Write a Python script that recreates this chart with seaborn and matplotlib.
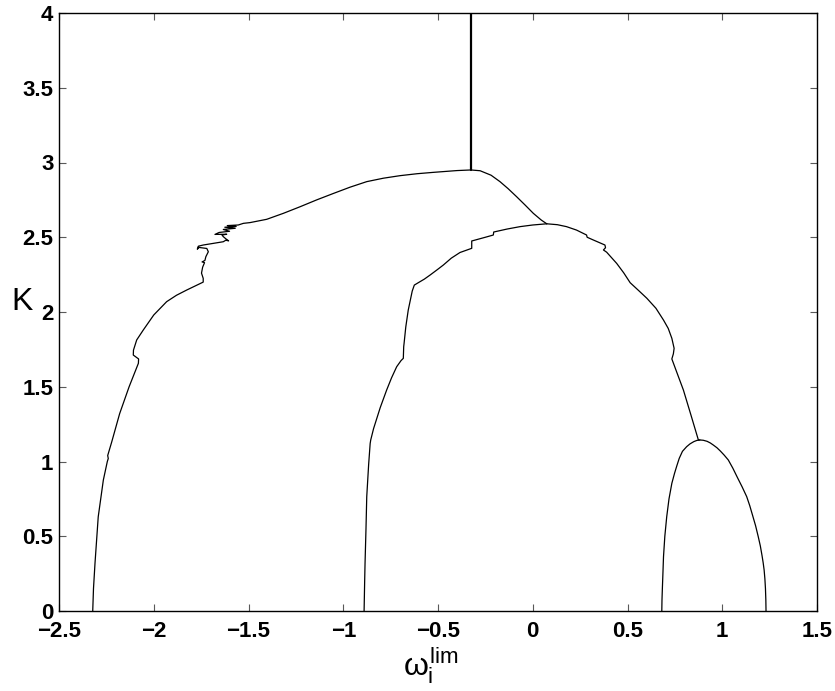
import matplotlib
matplotlib.use("Agg")
import matplotlib.pyplot as plt
import seaborn as sns

# ---- data ----
outer_x = [-2.322, -2.318, -2.310, -2.293, -2.266, -2.245, -2.240, -2.243, -2.222, -2.180, -2.130,
           -2.081, -2.080, -2.095, -2.108, -2.107, -2.090, -2.055, -2.000, -1.932, -1.880, -1.826,
           -1.739, -1.739, -1.748, -1.742, -1.732, -1.745, -1.730, -1.725, -1.712, -1.720, -1.762,
           -1.770, -1.765, -1.739, -1.686, -1.633, -1.620, -1.605, -1.620, -1.633, -1.640, -1.615,
           -1.677, -1.655, -1.600, -1.633, -1.570, -1.625, -1.565, -1.612, -1.554, -1.527, -1.492,
           -1.404, -1.316, -1.228, -1.140, -1.052, -0.964, -0.876, -0.788, -0.700, -0.610, -0.525,
           -0.400, -0.327, -0.278, -0.220, -0.173, -0.130, -0.085, -0.040, 0.003, 0.045, 0.074]
outer_y = [0.000, 0.150, 0.320, 0.630, 0.876, 1.000, 1.020, 1.040, 1.130, 1.320, 1.500,
           1.657, 1.686, 1.700, 1.712, 1.745, 1.813, 1.880, 1.980, 2.069, 2.112, 2.147,
           2.200, 2.225, 2.260, 2.300, 2.330, 2.335, 2.345, 2.370, 2.403, 2.425, 2.432,
           2.420, 2.440, 2.448, 2.459, 2.470, 2.480, 2.476, 2.490, 2.504, 2.515, 2.520,
           2.519, 2.532, 2.540, 2.552, 2.560, 2.567, 2.572, 2.578, 2.582, 2.593, 2.598,
           2.620, 2.660, 2.704, 2.750, 2.793, 2.835, 2.872, 2.895, 2.912, 2.925, 2.934,
           2.946, 2.950, 2.945, 2.915, 2.872, 2.825, 2.771, 2.715, 2.660, 2.615, 2.590]

stem_x = [-0.327, -0.327]
stem_y = [2.950, 4.000]

mid_left_x = [-0.890, -0.887, -0.885, -0.880, -0.876, -0.866, -0.858, -0.855, -0.840, -0.805,
              -0.771, -0.745, -0.718, -0.695, -0.683, -0.681, -0.679, -0.670, -0.657, -0.636,
              -0.625, -0.604, -0.572, -0.542, -0.505, -0.472, -0.430, -0.384, -0.322, -0.322,
              -0.250, -0.208, -0.206, -0.135, -0.067, 0.000, 0.074]
mid_left_y = [0.000, 0.200, 0.319, 0.550, 0.765, 0.980, 1.120, 1.144, 1.220, 1.360,
              1.478, 1.560, 1.634, 1.675, 1.690, 1.768, 1.790, 1.900, 2.013, 2.140,
              2.180, 2.196, 2.220, 2.247, 2.282, 2.314, 2.360, 2.398, 2.426, 2.475,
              2.500, 2.515, 2.535, 2.555, 2.571, 2.582, 2.590]

mid_right_x = [0.074, 0.130, 0.178, 0.231, 0.284, 0.287, 0.319, 0.381, 0.384, 0.373, 0.390, 0.443,
               0.480, 0.514, 0.560, 0.602, 0.650, 0.690, 0.715, 0.734, 0.746, 0.742, 0.734, 0.765,
               0.795, 0.835, 0.874, 0.882]
mid_right_y = [2.590, 2.584, 2.571, 2.548, 2.515, 2.500, 2.482, 2.448, 2.430, 2.415, 2.400, 2.325,
               2.262, 2.196, 2.142, 2.092, 2.025, 1.946, 1.890, 1.824, 1.757, 1.720, 1.686, 1.580,
               1.478, 1.310, 1.144, 1.144]

small_x = [0.681, 0.682, 0.684, 0.687, 0.690, 0.697, 0.707, 0.719, 0.734, 0.748, 0.760, 0.773,
           0.790, 0.812, 0.830, 0.850, 0.866, 0.882, 0.900, 0.920, 0.937, 0.953, 0.972, 0.990,
           1.010, 1.032, 1.056, 1.080, 1.105, 1.129, 1.145, 1.160, 1.176, 1.190, 1.201, 1.210,
           1.216, 1.221, 1.225, 1.228, 1.230, 1.231]
small_y = [0.000, 0.075, 0.150, 0.255, 0.363, 0.500, 0.631, 0.750, 0.854, 0.920, 0.970, 1.021,
           1.068, 1.099, 1.118, 1.133, 1.141, 1.144, 1.142, 1.135, 1.124, 1.110, 1.092, 1.070,
           1.043, 1.010, 0.955, 0.893, 0.830, 0.765, 0.705, 0.640, 0.570, 0.497, 0.435, 0.370,
           0.322, 0.274, 0.215, 0.150, 0.075, 0.000]

xticks = [-2.5, -2, -1.5, -1, -0.5, 0, 0.5, 1, 1.5]
xtick_labels = ["\u22122.5", "\u22122", "\u22121.5", "\u22121", "\u22120.5", "0", "0.5", "1", "1.5"]
yticks = [0, 0.5, 1, 1.5, 2, 2.5, 3, 3.5, 4]
ytick_labels = ["0", "0.5", "1", "1.5", "2", "2.5", "3", "3.5", "4"]

# ---- style ----
sns.set_theme(style="white")
plt.rcParams["font.family"] = ["Liberation Sans", "DejaVu Sans"]
plt.rcParams["mathtext.fontset"] = "custom"
plt.rcParams["mathtext.rm"] = "Liberation Sans"
plt.rcParams["mathtext.it"] = "Liberation Sans"
plt.rcParams["mathtext.bf"] = "Liberation Sans:bold"
plt.rcParams["text.color"] = "black"
plt.rcParams["axes.labelcolor"] = "black"
plt.rcParams["xtick.color"] = "black"
plt.rcParams["ytick.color"] = "black"

fig = plt.figure(figsize=(8.35, 6.91), dpi=100)
ax = fig.add_axes([59 / 835, 80 / 691, 758 / 835, 598 / 691])

lw = 0.9
for xs, ys, w in [(outer_x, outer_y, lw), (mid_left_x, mid_left_y, lw),
                  (mid_right_x, mid_right_y, lw), (small_x, small_y, lw),
                  (stem_x, stem_y, 1.6)]:
    sns.lineplot(x=xs, y=ys, sort=False, estimator=None, color="black",
                 linewidth=w, ax=ax)

ax.set_xlim(-2.5, 1.5)
ax.set_ylim(0, 4)
ax.set_xticks(xticks)
ax.set_xticklabels(xtick_labels, fontsize=16, fontweight="bold", color="black")
ax.set_yticks(yticks)
ax.set_yticklabels(ytick_labels, fontsize=16, fontweight="bold", color="black")
ax.tick_params(axis="both", direction="in", length=5, width=0.8, color="0.35",
               top=True, right=True, bottom=True, left=True)
ax.tick_params(axis="x", pad=7)
ax.tick_params(axis="y", pad=4)
for sp in ax.spines.values():
    sp.set_visible(True)
    sp.set_color("black")
    sp.set_linewidth(1.0)

ax.set_ylabel("K", rotation=0, fontsize=23, ha="center", va="center", color="black")
ax.yaxis.set_label_coords(-0.049, 0.517)
ax.set_xlabel(r"$\omega_i^{\mathrm{lim}}$", fontsize=23, ha="center", va="baseline",
              color="black")
ax.xaxis.set_label_coords(0.49, -0.108)

fig.savefig("out.png", dpi=100)
